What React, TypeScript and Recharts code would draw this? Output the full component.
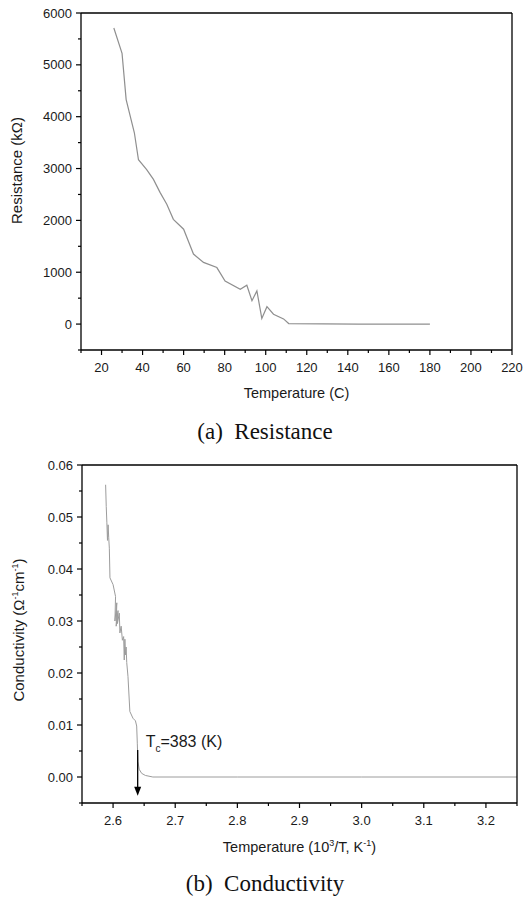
import { LineChart, Line, XAxis, YAxis, ReferenceLine, ReferenceDot, Label } from "recharts";

// (a) Resistance vs temperature
const tempC = [26, 30, 32, 36, 38, 42, 45.3, 48.5, 51.8, 55, 60, 64.8, 69.7, 76.2, 80.2, 87.6, 90.8, 93.3, 95.7, 98.1, 100.6, 103.8, 108.7, 111.2, 145, 180];
const resistance = [5710, 5220, 4330, 3690, 3170, 2980, 2790, 2540, 2310, 2020, 1830, 1350, 1190, 1090, 830, 670, 750, 450, 640, 110, 335, 190, 100, 10, 0, 0];
const tempMajorTicks = [20, 40, 60, 80, 100, 120, 140, 160, 180, 200, 220];
const tempMinorTicks = [10, 30, 50, 70, 90, 110, 130, 150, 170, 190, 210];
const resMajorTicks = [0, 1000, 2000, 3000, 4000, 5000, 6000];
const resMinorTicks = [-500, 500, 1500, 2500, 3500, 4500, 5500];

// (b) Conductivity vs 10^3/T
const invT = [2.588, 2.589, 2.59, 2.591, 2.592, 2.593, 2.594, 2.595, 2.6, 2.604, 2.603, 2.606, 2.605, 2.608, 2.607, 2.61, 2.611, 2.613, 2.615, 2.617, 2.618, 2.619, 2.62, 2.621, 2.622, 2.624, 2.627, 2.632, 2.636, 2.638, 2.639, 2.64, 2.642, 2.646, 2.652, 2.664, 2.8, 3.0, 3.25];
const conductivity = [0.0562, 0.052, 0.049, 0.0455, 0.0485, 0.046, 0.044, 0.0383, 0.037, 0.0347, 0.03, 0.0335, 0.029, 0.032, 0.0295, 0.0315, 0.0277, 0.029, 0.0263, 0.027, 0.0225, 0.0265, 0.0235, 0.025, 0.022, 0.0193, 0.0126, 0.0113, 0.0108, 0.0098, 0.0065, 0.003, 0.0015, 0.0007, 0.0003, 0, 0, 0, 0];
const invTMajorTicks = [2.6, 2.7, 2.8, 2.9, 3.0, 3.1, 3.2];
const invTMinorTicks = [2.55, 2.65, 2.75, 2.85, 2.95, 3.05, 3.15, 3.25];
const condMajorTicks = [0, 0.01, 0.02, 0.03, 0.04, 0.05, 0.06];
const condMinorTicks = [-0.005, 0.005, 0.015, 0.025, 0.035, 0.045, 0.055];

// Tc marker
const tcX = 2.6396;
const tcTop = 0.0052;
const tcBottom = -0.0036;
const tcValue = "=383 (K)";

const SANS = "'Liberation Sans', Arial, sans-serif";
const SERIF = "'Liberation Serif', 'Times New Roman', serif";
const INK = "#1a1a1a";
const frameLine = { stroke: "#000", strokeWidth: 1.3 };

// chart boxes
const W = 525;
const H = 410;
const resBox = { top: 13, right: 13, yw: 81, xh: 60 };
const condBox = { top: 13, right: 8, yw: 82, xh: 59 };
const plotW = (b: typeof resBox) => W - b.right - b.yw;
const plotH = (b: typeof resBox) => H - b.top - b.xh;

const resData = tempC.map((t, i) => ({ t, r: resistance[i] }));
const condData = invT.map((x, i) => ({ x, c: conductivity[i] }));

const same = (a: number, b: number) => Math.abs(a - b) < 1e-9;
const isMajor = (list: number[], v: number) => list.some(m => same(m, v));
const byValue = (a: number, b: number) => a - b;

// x ticks; the tick at the domain end also draws the right edge of the frame
function makeXTick(majors: number[], fmt: (v: number) => string, edge: number, edgeLen: number) {
  return (props: any) => {
    const { x, y, payload } = props;
    const major = isMajor(majors, payload.value);
    return (
      <g>
        <line x1={x} x2={x} y1={y} y2={y + (major ? 5 : 3)} stroke="#000" strokeWidth={1.2} />
        {same(payload.value, edge) && <line x1={x} x2={x} y1={y} y2={y - edgeLen} stroke="#000" strokeWidth={1.3} />}
        {major && (
          <text x={x} y={y + 22} textAnchor="middle" fontSize={13} fontFamily={SANS} fill={INK}>
            {fmt(payload.value)}
          </text>
        )}
      </g>
    );
  };
}

// y ticks; the tick at the domain top also draws the top edge of the frame
function makeYTick(majors: number[], fmt: (v: number) => string, edge: number, edgeLen: number) {
  return (props: any) => {
    const { x, y, payload } = props;
    const major = isMajor(majors, payload.value);
    return (
      <g>
        <line x1={x - (major ? 5 : 3)} x2={x} y1={y} y2={y} stroke="#000" strokeWidth={1.2} />
        {same(payload.value, edge) && <line x1={x} x2={x + edgeLen} y1={y} y2={y} stroke="#000" strokeWidth={1.3} />}
        {major && (
          <text x={x - 9} y={y + 4.5} textAnchor="end" fontSize={13} fontFamily={SANS} fill={INK}>
            {fmt(payload.value)}
          </text>
        )}
      </g>
    );
  };
}

function xTitle(content: React.ReactNode, dy: number) {
  return (props: any) => {
    const vb = props.viewBox;
    return (
      <text x={vb.x + vb.width / 2} y={vb.y + dy} textAnchor="middle" fontSize={14.5} fontFamily={SANS} fill={INK}>
        {content}
      </text>
    );
  };
}

function yTitle(content: React.ReactNode, bx: number, shift: number) {
  return (props: any) => {
    const vb = props.viewBox;
    const cx = vb.x + bx;
    const cy = vb.y + vb.height / 2 + shift;
    return (
      <text x={cx} y={cy} transform={`rotate(-90 ${cx} ${cy})`} textAnchor="middle" fontSize={15} fontFamily={SANS} fill={INK}>
        {content}
      </text>
    );
  };
}

const Arrow = (p: any) => {
  const { x1, y1, x2, y2 } = p;
  return (
    <g>
      <line x1={x1} y1={y1} x2={x2} y2={y2 - 7} stroke="#000" strokeWidth={1.3} />
      <path d={`M${x2 - 3.5},${y2 - 9} L${x2 + 3.5},${y2 - 9} L${x2},${y2} Z`} fill="#000" />
    </g>
  );
};

const TcText = (p: any) => (
  <text x={p.cx} y={p.cy} fontSize={16} fontFamily={SANS} fill={INK}>
    T<tspan dy={5} fontSize={10}>c</tspan>
    <tspan dy={-5}>{tcValue}</tspan>
  </text>
);

function ResistanceChart() {
  return (
    <LineChart width={W} height={H} data={resData} margin={{ top: resBox.top, right: resBox.right, bottom: 0, left: 0 }}>
      <XAxis
        type="number"
        dataKey="t"
        domain={[10, 220]}
        ticks={[...tempMajorTicks, ...tempMinorTicks].sort(byValue)}
        interval={0}
        tick={makeXTick(tempMajorTicks, v => String(v), 220, plotH(resBox))}
        tickLine={false}
        tickSize={0}
        tickMargin={0}
        axisLine={frameLine}
        height={resBox.xh}
      >
        <Label content={xTitle("Temperature (C)", 48)} />
      </XAxis>
      <YAxis
        type="number"
        domain={[-500, 6000]}
        ticks={[...resMajorTicks, ...resMinorTicks].sort(byValue)}
        interval={0}
        tick={makeYTick(resMajorTicks, v => String(v), 6000, plotW(resBox))}
        tickLine={false}
        tickSize={0}
        tickMargin={0}
        axisLine={frameLine}
        width={resBox.yw}
      >
        <Label content={yTitle("Resistance (k\u03a9)", 22, -11)} />
      </YAxis>
      <Line type="linear" dataKey="r" stroke="#8f8f8f" strokeWidth={1.2} dot={false} isAnimationActive={false} />
    </LineChart>
  );
}

function ConductivityChart() {
  return (
    <LineChart width={W} height={H} data={condData} margin={{ top: condBox.top, right: condBox.right, bottom: 0, left: 0 }}>
      <XAxis
        type="number"
        dataKey="x"
        domain={[2.55, 3.25]}
        ticks={[...invTMajorTicks, ...invTMinorTicks].sort(byValue)}
        interval={0}
        tick={makeXTick(invTMajorTicks, v => v.toFixed(1), 3.25, plotH(condBox))}
        tickLine={false}
        tickSize={0}
        tickMargin={0}
        axisLine={frameLine}
        height={condBox.xh}
      >
        <Label
          content={xTitle(
            <>
              <tspan>Temperature (10</tspan>
              <tspan dy={-6} fontSize={9}>3</tspan>
              <tspan dy={6}>/T, K</tspan>
              <tspan dy={-6} fontSize={9}>-1</tspan>
              <tspan dy={6}>)</tspan>
            </>,
            49
          )}
        />
      </XAxis>
      <YAxis
        type="number"
        domain={[-0.005, 0.06]}
        ticks={[...condMajorTicks, ...condMinorTicks].sort(byValue)}
        interval={0}
        tick={makeYTick(condMajorTicks, v => v.toFixed(2), 0.06, plotW(condBox))}
        tickLine={false}
        tickSize={0}
        tickMargin={0}
        axisLine={frameLine}
        width={condBox.yw}
      >
        <Label
          content={yTitle(
            <>
              <tspan>Conductivity ({"\u03a9"}</tspan>
              <tspan dy={-6} fontSize={9}>-1</tspan>
              <tspan dy={6}>cm</tspan>
              <tspan dy={-6} fontSize={9}>-1</tspan>
              <tspan dy={6}>)</tspan>
            </>,
            24,
            -4
          )}
        />
      </YAxis>
      <Line type="linear" dataKey="c" stroke="#9c9c9c" strokeWidth={1} dot={false} isAnimationActive={false} />
      <ReferenceLine segment={[{ x: tcX, y: tcTop }, { x: tcX, y: tcBottom }]} shape={Arrow} />
      <ReferenceDot x={2.6524} y={0.0058} r={0} shape={TcText} />
    </LineChart>
  );
}

const captionStyle: React.CSSProperties = {
  position: "absolute",
  left: 0,
  width: 530,
  textAlign: "center",
  fontFamily: SERIF,
  fontSize: 23,
  lineHeight: "23px",
  color: "#111",
  whiteSpace: "pre",
};

export default function App() {
  return (
    <div style={{ position: "absolute", left: 0, top: 0, width: 525, height: 900, background: "#fff", overflow: "hidden" }}>
      <div style={{ position: "absolute", left: 0, top: 0 }}>
        <ResistanceChart />
      </div>
      <div style={{ position: "absolute", left: 0, top: 452 }}>
        <ConductivityChart />
      </div>
      <div style={{ ...captionStyle, top: 420 }}>(a)  Resistance</div>
      <div style={{ ...captionStyle, top: 872 }}>(b)  Conductivity</div>
    </div>
  );
}
